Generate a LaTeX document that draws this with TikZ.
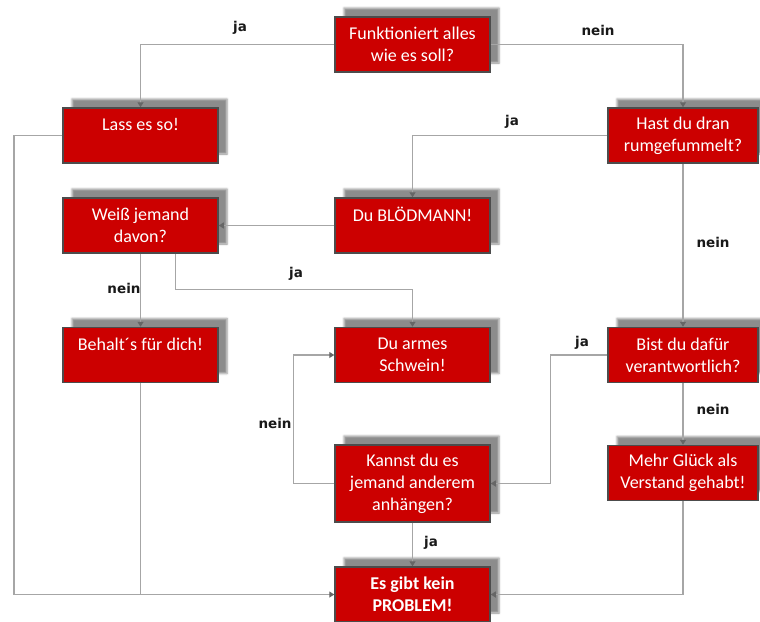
\documentclass[tikz,border=0pt]{standalone}
\usepackage{fontspec}
\setmainfont{Carlito}
\newfontfamily\lblfont{DejaVu Sans}
\usetikzlibrary{arrows.meta,shadows.blur}
\definecolor{boxred}{RGB}{204,0,0}

\begin{document}
\begin{tikzpicture}[x=1pt, y=-1pt,
    box/.style={draw=black!70, line width=1.5pt, fill=boxred, text=white,
        minimum width=155pt, minimum height=55pt, align=center, inner sep=0pt,
        font=\fontsize{18}{22}\selectfont,
        blur shadow={shadow xshift=9pt, shadow yshift=9pt, shadow blur radius=2pt, shadow opacity=45}},
    boxR/.style={box, minimum width=150pt},
    conn/.style={draw=black!35, line width=1.1pt, -{Triangle[width=6pt,length=5pt,color=black!60]}},
    linkline/.style={draw=black!35, line width=1.1pt},
    lbl/.style={font=\lblfont\bfseries\fontsize{13.5}{16}\selectfont, text=black!90, inner sep=0pt}]

    \useasboundingbox (0,0) rectangle (760,621);

    %boxes of the chart
        \node[box] (fkt) at (412.5,44.5) {Funktioniert alles\\wie es soll?};
        \node[box] (lass) at (140.5,135.5) {Lass es so!\\\mbox{}};
        \node[boxR] (hast) at (683,135.5) {Hast du dran\\rumgefummelt?};
        \node[box] (weiss) at (140.5,225.5) {Weiß jemand\\davon?};
        \node[box] (bloed) at (412.5,225.5) {Du BLÖDMANN!\\\mbox{}};
        \node[box] (behalt) at (140.5,355) {Behalt´s für dich!\\\mbox{}};
        \node[box] (armes) at (412.5,355) {Du armes\\Schwein!};
        \node[boxR] (bist) at (683,355) {Bist du dafür\\verantwortlich?};
        \node[box, minimum height=77pt] (kannst) at (412.5,483.5) {Kannst du es\\jemand anderem\\anhängen?};
        \node[boxR] (mehr) at (683,473) {Mehr Glück als\\Verstand gehabt!};
        \node[box, font=\fontsize{18}{22}\selectfont\bfseries] (problem) at (412.5,594.5) {Es gibt kein\\PROBLEM!};

    %helper point for the outer line
        \coordinate (rail) at (14,400);

    %connectors
        \draw[conn] (fkt.west) -| (lass.north);
        \draw[conn] (fkt.east) -| (hast.north);
        \draw[conn] (hast.west) -| (bloed.north);
        \draw[conn] (hast.south) -- (bist.north);
        \draw[conn] (bloed.west) -- (weiss.east);
        \draw[conn] (weiss.south) -- (behalt.north);
        \draw[conn] ([xshift=35pt]weiss.south) -- ++(0,36) -| (armes.north);
        \draw[conn] (bist.west) -- ++(-57,0) |- (kannst.east);
        \draw[conn] (bist.south) -- (mehr.north);
        \draw[conn] (kannst.west) -- ++(-41,0) |- (armes.west);
        \draw[conn] (kannst.south) -- (problem.north);
        \draw[conn] (mehr.south) |- (problem.east);
        \draw[conn] (lass.west) -| (rail) |- (problem.west);
        \draw[linkline] (behalt.south) -- (behalt.south |- problem.west);

    %labels on the connectors
        \node[lbl] (ja1) at (240,28) {ja};
        \node[lbl] (nein1) at (598,30) {nein};
        \node[lbl] (ja2) at (512,122) {ja};
        \node[lbl] (nein2) at (713,242) {nein};
        \node[lbl] (nein3) at (124,288) {nein};
        \node[lbl] (ja3) at (296,274) {ja};
        \node[lbl] (ja4) at (582,343) {ja};
        \node[lbl] (nein4) at (713,409) {nein};
        \node[lbl] (nein5) at (275,423) {nein};
        \node[lbl] (ja5) at (431,543) {ja};

\end{tikzpicture}
\end{document}
